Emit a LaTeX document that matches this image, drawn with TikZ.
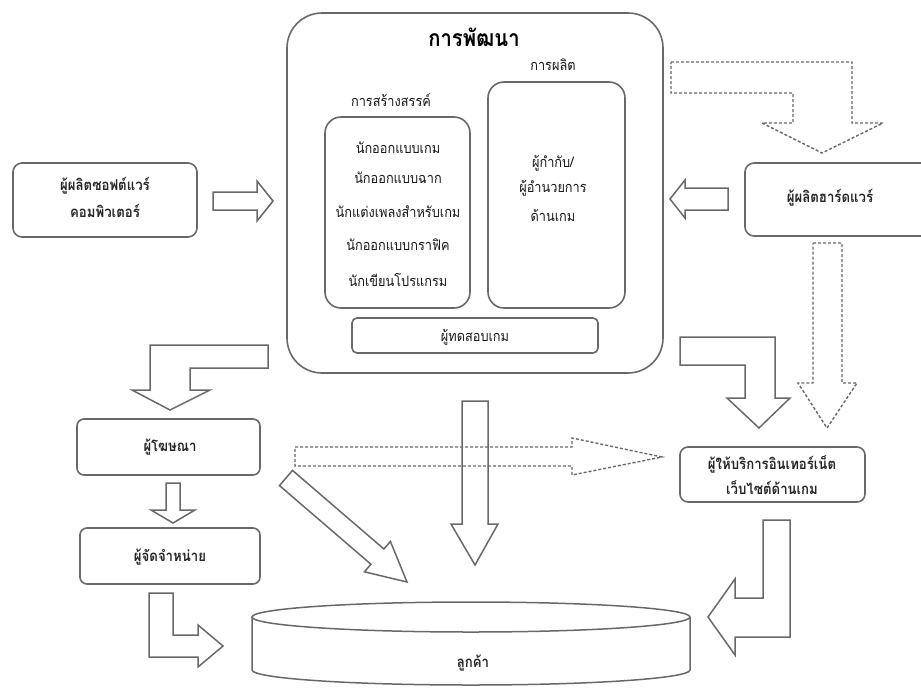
\documentclass[tikz,border=0pt]{standalone}
\usepackage{fontspec}
\newfontfamily\thai[Script=Thai, FakeStretch=0.88]{Loma}
\definecolor{edge}{RGB}{105,105,105}
\begin{document}
\begin{tikzpicture}[x=1pt,y=-1pt,
  box/.style={draw=edge, line width=1.6pt, inner sep=0pt, fill=white},
  txt/.style={font=\thai\fontsize{14.5}{16}\selectfont, text=black!90, inner sep=0pt, align=center},
  txtb/.style={font=\thai\bfseries\fontsize{15}{27}\selectfont, text=black!85, inner sep=0pt, align=center},
  blk/.style={draw=edge, line width=1.5pt, line join=miter},
  dsh/.style={draw=edge, line width=1.4pt, dash pattern=on 3pt off 2pt},
]
\useasboundingbox (0,0) rectangle (921,689);
\fill[white] (0,0) rectangle (921,689);

% development group
\node[box, rounded corners=35pt, minimum width=376, minimum height=360] (dev) at (475,193) {};
\node[font=\thai\bfseries\fontsize{23}{26}\selectfont, inner sep=0pt] (devt) at (474,37) {การพัฒนา};
\node[txt] (creat) at (391,100) {การสร้างสรรค์};
\node[txt] (prodt) at (553,65) {การผลิต};
\node[box, rounded corners=16pt, minimum width=145, minimum height=191] (cbox) at (397.5,212.5) {};
\node[box, rounded corners=16pt, minimum width=137, minimum height=226] (pbox) at (556.5,195) {};
\node[box, rounded corners=5pt, minimum width=246, minimum height=35] (test) at (475,335.5) {};
\node[txt] (testt) at (475,337) {ผู้ทดสอบเกม};

\node[txt] (c1) at (398,148) {นักออกแบบเกม};
\node[txt] (c2) at (398,178) {นักออกแบบฉาก};
\node[txt] (c3) at (398,212) {นักแต่งเพลงสำหรับเกม};
\node[txt] (c4) at (398,245) {นักออกแบบกราฟิค};
\node[txt] (c5) at (398,280) {นักเขียนโปรแกรม};

\node[txt] (p1) at (553,163) {ผู้กำกับ/};
\node[txt] (p2) at (553,188) {ผู้อำนวยการ};
\node[txt] (p3) at (553,215) {ด้านเกม};

% surrounding parties
\node[box, rounded corners=9pt, minimum width=184, minimum height=74] (soft) at (105,200) {};
\node[txtb] (softt) at (105,197) {ผู้ผลิตซอฟต์แวร์\\คอมพิวเตอร์};
\node[box, rounded corners=9pt, minimum width=190, minimum height=73] (hard) at (840,199.5) {};
\node[txtb] (hardt) at (830,198) {ผู้ผลิตฮาร์ดแวร์};
\node[box, rounded corners=7pt, minimum width=183, minimum height=56] (adv) at (168.5,447) {};
\node[txtb] (advt) at (170,447) {ผู้โฆษณา};
\node[box, rounded corners=7pt, minimum width=180, minimum height=56] (dist) at (170,556) {};
\node[txtb] (distt) at (170,557) {ผู้จัดจำหน่าย};
\node[box, rounded corners=8pt, minimum width=185, minimum height=55] (isp) at (772.5,474.5) {};
\node[txtb, font=\thai\bfseries\fontsize{15}{25}\selectfont] (ispt) at (772,475) {ผู้ให้บริการอินเทอร์เน็ต\\เว็บไซต์ด้านเกม};

% customers (cylinder)
\fill[white] (252,617) -- (252,670) arc[start angle=180, end angle=0, x radius=219, y radius=15] -- (690,617) -- cycle;
\draw[blk] (252,617) -- (252,670) arc[start angle=180, end angle=0, x radius=219, y radius=15] -- (690,617);
\draw[blk, fill=white] (471,617) ellipse[x radius=219, y radius=15];
\node[txtb] (cust) at (473,663) {ลูกค้า};

% block arrows
\draw[blk] (213,192) -- (257,192) -- (257,181) -- (273,201) -- (257,221) -- (257,210) -- (213,210) -- cycle;
\draw[blk] (728,188) -- (685,188) -- (685,180) -- (670,199) -- (685,218) -- (685,210) -- (728,210) -- cycle;
\draw[dsh] (671,62) -- (852,62) -- (852,123) -- (883,123) -- (822,153) -- (762,123) -- (793,123) -- (793,93) -- (671,93) -- cycle;
\draw[dsh] (813,243) -- (842,243) -- (842,383) -- (857,383) -- (827,428) -- (798,383) -- (813,383) -- cycle;
\draw[blk] (680,337) -- (775,337) -- (775,398) -- (790,398) -- (759,428) -- (727,398) -- (745,398) -- (745,365) -- (680,365) -- cycle;
\draw[blk] (268,345) -- (150,345) -- (150,390) -- (132,390) -- (170,410) -- (210,390) -- (190,390) -- (190,368) -- (268,368) -- cycle;
\draw[blk] (166,483) -- (180,483) -- (180,510) -- (195,510) -- (173,523) -- (151,510) -- (166,510) -- cycle;
\draw[blk] (149,593) -- (173,593) -- (173,635) -- (198,635) -- (198,625) -- (223,646) -- (198,667) -- (198,657) -- (149,657) -- cycle;
\draw[blk] (462,401) -- (488,401) -- (488,524) -- (498,524) -- (475,565) -- (451,524) -- (462,524) -- cycle;
\draw[dsh] (295,447) -- (572,447) -- (572,438) -- (662,457) -- (572,475) -- (572,466) -- (295,466) -- cycle;
\draw[blk] (292.5,470.4) -- (383.9,549.0) -- (390.4,541.4) -- (407,582) -- (364.4,571.8) -- (370.9,564.2) -- (279.5,485.6) -- cycle;
\draw[blk] (763,520) -- (790,520) -- (790,637) -- (735,637) -- (735,655) -- (708,617) -- (735,579) -- (735,598) -- (763,598) -- cycle;
\end{tikzpicture}
\end{document}
